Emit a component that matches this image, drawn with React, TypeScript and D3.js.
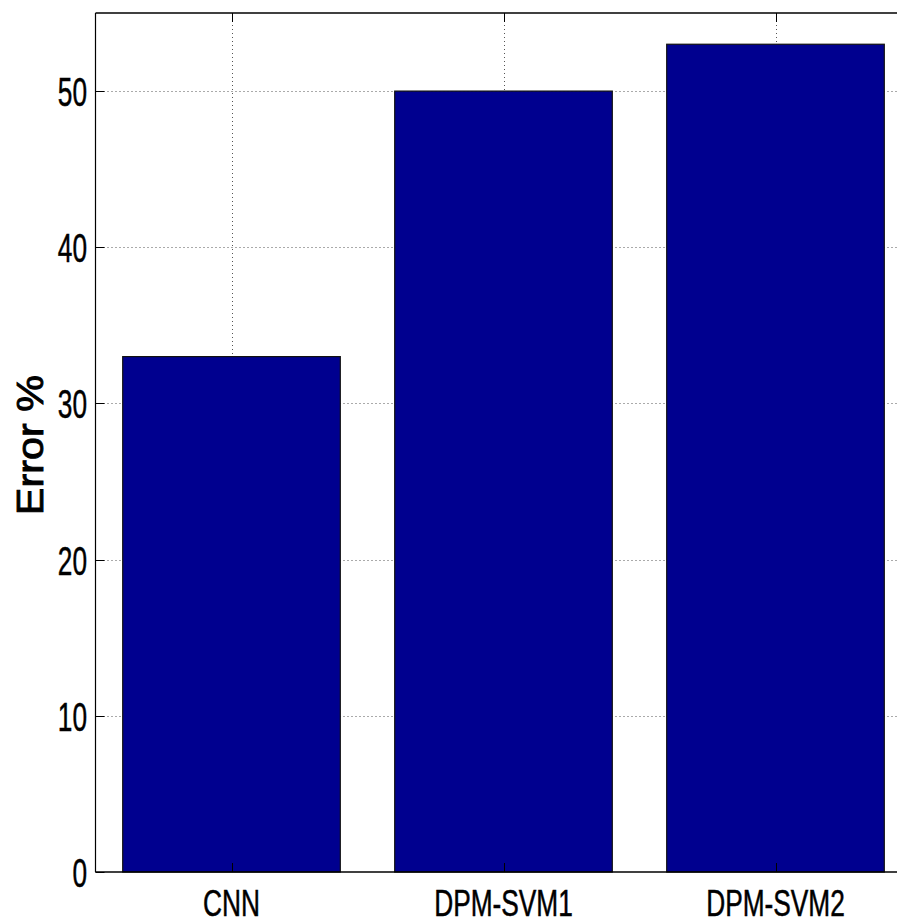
import React from "react";
import * as d3 from "d3";

const categories = ["CNN", "DPM-SVM1", "DPM-SVM2"];
const errorValues = [33, 50, 53];
const yTicks = [0, 10, 20, 30, 40, 50];
const yLabel = "Error %";

const W = 897;
const H = 924;

export default function App() {
  const x = d3.scaleLinear().domain([0.5, 3.5]).range([95.5, 911.5]);
  const y = d3.scaleLinear().domain([0, 55]).range([872, 13]);
  const step = x(2) - x(1);
  const barW = step * 0.8;
  const x0 = x.range()[0];
  const x1 = x.range()[1];
  const y0 = y.range()[0];
  const y1 = y.range()[1];
  const grid = "#555";
  const font = "'Liberation Sans', Arial, Helvetica, sans-serif";

  return (
    <svg
      width={W}
      height={H}
      style={{ position: "absolute", left: 0, top: 0, background: "#fff", overflow: "hidden" }}
    >
      <rect x={0} y={0} width={W} height={H} fill="#fff" />
      {/* grid */}
      {yTicks
        .filter((t) => t > 0)
        .map((t) => (
          <line
            key={"gy" + t}
            x1={x0}
            x2={x1}
            y1={Math.round(y(t)) + 0.5}
            y2={Math.round(y(t)) + 0.5}
            stroke={grid}
            strokeWidth={1}
            strokeDasharray="1,3"
          />
        ))}
      {categories.map((c, i) => (
        <line
          key={"gx" + c}
          x1={Math.round(x(i + 1)) + 0.5}
          x2={Math.round(x(i + 1)) + 0.5}
          y1={y1}
          y2={y0}
          stroke={grid}
          strokeWidth={1}
          strokeDasharray="1,3"
        />
      ))}
      {/* bars */}
      {errorValues.map((v, i) => (
        <rect
          key={"b" + i}
          x={x(i + 1) - barW / 2}
          y={y(v)}
          width={barW}
          height={y(0) - y(v)}
          fill="#00008F"
          stroke="#111"
          strokeWidth={1.2}
        />
      ))}
      {/* ticks */}
      {yTicks.map((t) => (
        <line
          key={"ty" + t}
          x1={x0}
          x2={x0 + 9}
          y1={Math.round(y(t)) + 0.5}
          y2={Math.round(y(t)) + 0.5}
          stroke="#000"
        />
      ))}
      {categories.map((c, i) => (
        <g key={"tx" + c}>
          <line
            x1={Math.round(x(i + 1)) + 0.5}
            x2={Math.round(x(i + 1)) + 0.5}
            y1={y0}
            y2={y0 - 9}
            stroke="#000"
          />
          <line
            x1={Math.round(x(i + 1)) + 0.5}
            x2={Math.round(x(i + 1)) + 0.5}
            y1={y1}
            y2={y1 + 9}
            stroke="#000"
          />
        </g>
      ))}
      {/* axes box (right side lies beyond the canvas) */}
      <line x1={x0} x2={x0} y1={y1} y2={y0} stroke="#000" strokeWidth={1.2} />
      <line x1={x0} x2={x1} y1={y1} y2={y1} stroke="#000" strokeWidth={1.5} />
      <line x1={x0} x2={x1} y1={y0} y2={y0} stroke="#000" strokeWidth={1.5} />
      {/* y tick labels */}
      {yTicks.map((t) => (
        <text
          key={"yl" + t}
          transform={`translate(87,${y(t) + 15}) scale(0.64,1)`}
          textAnchor="end"
          fontFamily={font}
          fontSize={41}
          fill="#000"
          stroke="#000"
          strokeWidth={0.5}
        >
          {t}
        </text>
      ))}
      {/* x tick labels */}
      {categories.map((c, i) => (
        <text
          key={"xl" + c}
          transform={`translate(${x(i + 1)},916) scale(0.73,1)`}
          textAnchor="middle"
          fontFamily={font}
          fontSize={36}
          fill="#000"
          stroke="#000"
          strokeWidth={0.5}
        >
          {c}
        </text>
      ))}
      {/* y label */}
      <text
        transform={`translate(43,445) rotate(-90) scale(1.12,1)`}
        textAnchor="middle"
        fontFamily={font}
        fontSize={37}
        fill="#000"
        stroke="#000"
        strokeWidth={0.9}
      >
        {yLabel}
      </text>
    </svg>
  );
}
